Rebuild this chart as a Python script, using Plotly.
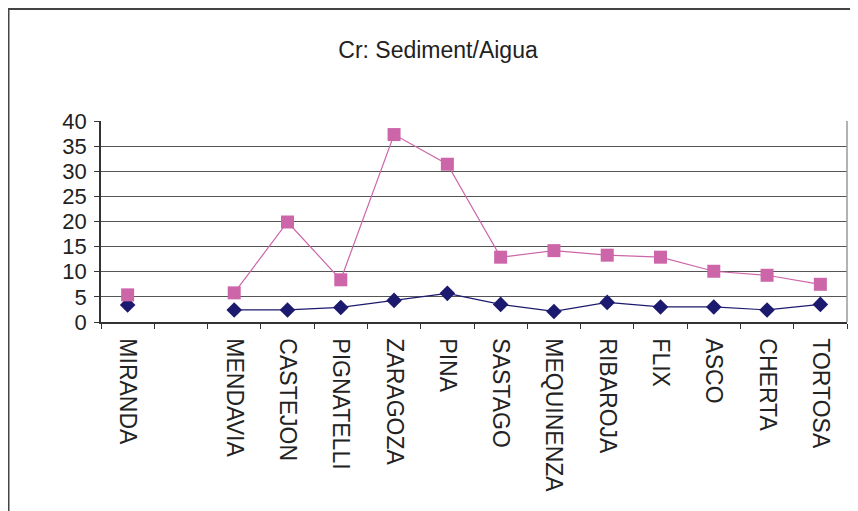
import plotly.graph_objects as go

categories = ["MIRANDA", " ", "MENDAVIA", "CASTEJON", "PIGNATELLI", "ZARAGOZA", "PINA",
              "SASTAGO", "MEQUINENZA", "RIBAROJA", "FLIX", "ASCO", "CHERTA", "TORTOSA"]
sediment = [5.4, None, 5.8, 19.9, 8.4, 37.3, 31.4, 12.9, 14.2, 13.3, 12.9, 10.1, 9.3, 7.5]
aigua = [3.4, None, 2.4, 2.4, 2.9, 4.3, 5.7, 3.5, 2.1, 3.9, 3.0, 3.0, 2.4, 3.5]
y_ticks = [0, 5, 10, 15, 20, 25, 30, 35, 40]
title_text = "Cr: Sediment/Aigua"

FONT = "Liberation Sans, Arial, sans-serif"

fig = go.Figure()
fig.add_trace(go.Scatter(
    x=categories, y=aigua, mode="lines+markers", name="Aigua",
    line=dict(color="#1c1a6e", width=1.2),
    marker=dict(symbol="diamond", size=12, color="#1c1a6e"),
    connectgaps=False,
))
fig.add_trace(go.Scatter(
    x=categories, y=sediment, mode="lines+markers", name="Sediment",
    line=dict(color="#cc66a8", width=1.2),
    marker=dict(symbol="square", size=13, color="#cc66a8"),
    connectgaps=False,
))

# page body has an 8px default margin, so figure coords = window coords - 8
W, H = 850, 503
L, R, T = 93, 11, 113
pw = W - L - R          # 746
ph = 201
B = H - T - ph          # 189

fig.update_layout(
    width=W, height=H,
    margin=dict(l=L, r=R, t=T, b=B, autoexpand=False),
    paper_bgcolor="white", plot_bgcolor="white",
    showlegend=False,
    title=dict(text=title_text, x=430 / W, xanchor="center", y=1 - 42 / H, yanchor="middle",
               font=dict(family=FONT, size=23, color="#222")),
    font=dict(family=FONT, color="#222"),
    xaxis=dict(
        type="category", categoryorder="array", categoryarray=categories,
        tickson="boundaries", ticks="outside", ticklen=5, tickcolor="#333",
        showline=True, linecolor="#333", linewidth=1.5,
        showgrid=False, tickangle=90, automargin=False,
        ticklabelstandoff=10,
        tickfont=dict(family=FONT, size=23, color="#222"),
        range=[-0.5, len(categories) - 0.5],
    ),
    yaxis=dict(
        range=[0, 40], tickvals=y_ticks, ticks="outside", ticklen=5, tickcolor="#333",
        showline=True, linecolor="#333", linewidth=1.5,
        showgrid=True, gridcolor="#555", gridwidth=1.2,
        zeroline=False, automargin=False,
        ticklabelstandoff=3,
        tickfont=dict(family=FONT, size=22, color="#222"),
    ),
    shapes=[
        dict(type="line", xref="paper", yref="paper", x0=1, x1=1, y0=0, y1=1,
             line=dict(color="#999", width=1.5)),
        dict(type="rect", xref="paper", yref="paper",
             x0=(0.5 - L) / pw, x1=(W + 20 - L) / pw,
             y0=-(H + 20 - (H - B)) / ph, y1=((H - B) - 1) / ph,
             line=dict(color="#444", width=2), fillcolor="rgba(0,0,0,0)", layer="below"),
    ],
)

fig.write_html("out.html")
